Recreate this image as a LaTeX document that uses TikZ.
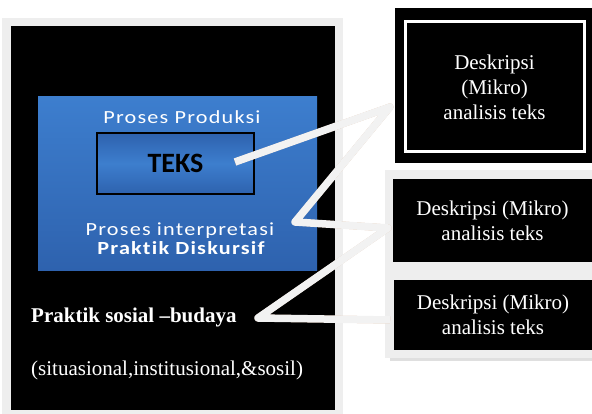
\documentclass[tikz,border=0pt]{standalone}
\usepackage{fontspec}
\setmainfont{Liberation Serif}
\newfontfamily\calibri[LetterSpace=6.5, FakeStretch=1.2, Ligatures=NoCommon]{Carlito}
\newfontfamily\calibriplain{Carlito}
\usepackage{xcolor}
\usetikzlibrary{positioning}

\definecolor{framegray}{HTML}{EEEEEE}
\definecolor{linkgray}{HTML}{F2F2F2}
\definecolor{bluetop}{HTML}{3D7ECE}
\definecolor{bluebot}{HTML}{2E62AE}
\definecolor{glow}{HTML}{C06A2C}

\begin{document}
\begin{tikzpicture}[x=1pt, y=-1pt,
    panel/.style={rectangle, fill=black, inner sep=0pt},
    bluebox/.style={rectangle, inner sep=0pt, top color=bluetop, bottom color=bluebot},
    teksbox/.style={rectangle, draw=black, line width=1.6pt, inner sep=0pt,
        top color=bluebot, bottom color=bluebot, middle color=bluetop},
    bluetext/.style={inner sep=0pt, anchor=base, text=white, font=\calibri\fontsize{18.5}{20}\selectfont},
    sosialtext/.style={inner sep=0pt, anchor=base west, text=white, font=\fontsize{21}{25}\selectfont},
    descbox/.style={rectangle, fill=black, inner sep=0pt, text=white, align=center,
        font=\fontsize{21}{25}\selectfont},
    link/.style={line width=7.5pt, draw=linkgray, line join=round},
    linkglow/.style={line width=7pt, draw=glow, opacity=0.35, line join=round}]

    \useasboundingbox (0,0) rectangle (592,414);

    % Left panel
    \fill [framegray] (2,18) rectangle (343,414);
    \node [panel, minimum width=324, minimum height=384] (panel) at (173,218) {};
    \node [bluebox, minimum width=279, minimum height=174] (disc) at (177.5,184) {};
    \node [bluetext] (prod) at (182,124) {Proses Produksi};
    \node [teksbox, minimum width=157, minimum height=61] (teks) at (175.5,163.5) {};
    \node [inner sep=0pt, anchor=base, font=\calibriplain\bfseries\fontsize{28}{30}\selectfont] (tekslabel) at (175.5,173) {TEKS};
    \node [bluetext] (interp) at (180,236) {Proses interpretasi};
    \node [bluetext, font=\calibri\bfseries\fontsize{18.5}{20}\selectfont] (diskursif) at (181,255) {Praktik Diskursif};
    \node [sosialtext, font=\bfseries\fontsize{21}{25}\selectfont] (sosial) at (31,323) {Praktik sosial --budaya};
    \node [sosialtext] (situasi) at (31,375) {(situasional,institusional,\&sosil)};

    % Right frames
    \fill [framegray] (385,170) rectangle (592,358);
    \fill [gray!25] (390,358) rectangle (592,361);

    % Link points
    \coordinate (pteks) at (235,162);
    \coordinate (b1) at (390,107);
    \coordinate (pinterp) at (295,222);
    \coordinate (b2) at (388,228);
    \coordinate (psosial) at (258,318);
    \coordinate (b3) at (390,320);

    % Links
    \draw [linkglow, shift={(3,4)}] (pteks) -- (b1) -- (pinterp) -- (b2) -- (psosial) -- (b3);
    \draw [linkglow, shift={(1.5,2)}] (pteks) -- (b1) -- (pinterp) -- (b2) -- (psosial) -- (b3);
    \draw [link] (pteks) -- (b1) -- (pinterp) -- (b2) -- (psosial) -- (b3);

    % Descriptions
    \node [descbox, minimum width=197, minimum height=155] (box1) at (493.5,85.5) {};
    \node [descbox, draw=white, line width=3pt, minimum width=179, minimum height=130] (box1in) at (494.5,87)
        {Deskripsi\\(Mikro)\\analisis teks};
    \node [descbox, minimum width=199, minimum height=83] (box2) at (492.5,220.5)
        {Deskripsi (Mikro)\\analisis teks};
    \node [descbox, minimum width=198, minimum height=70] (box3) at (493,315)
        {Deskripsi (Mikro)\\analisis teks};
\end{tikzpicture}
\end{document}
